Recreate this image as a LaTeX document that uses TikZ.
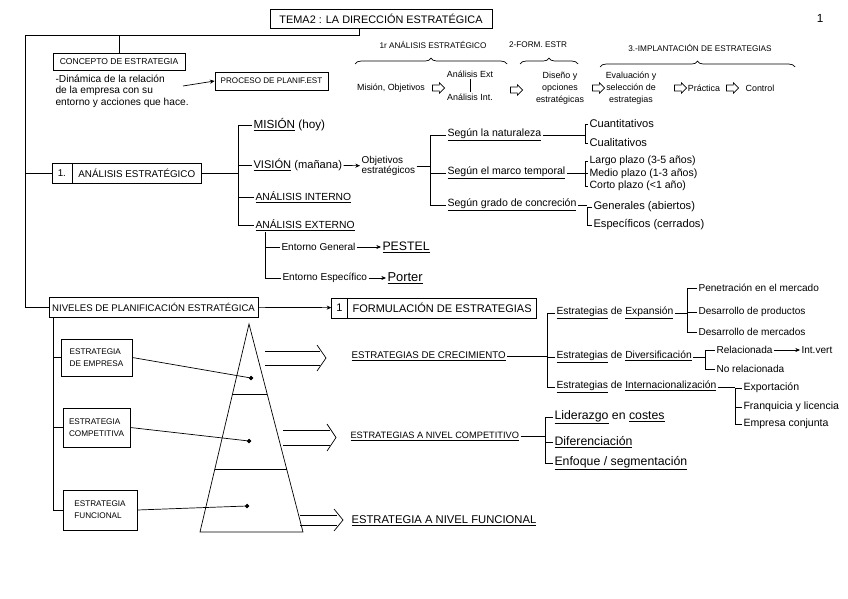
\documentclass[tikz,border=0pt]{standalone}
\usepackage{fontspec}
\setmainfont{Liberation Sans}
\usetikzlibrary{positioning,calc,shapes.arrows,shapes.multipart,decorations.pathreplacing,arrows.meta}

\begin{document}
\begin{tikzpicture}[x=0.03cm, y=-0.03cm, line width=0.6pt, >={Stealth[length=4pt,width=3.5pt]},
  box/.style={draw, inner sep=2pt, font=\fontsize{7.5}{8.5}\selectfont},
  caps/.style={anchor=west, inner sep=1pt, font=\fontsize{8.8}{9.5}\selectfont},
  txt/.style={anchor=west, inner sep=1pt, font=\fontsize{8.6}{10}\selectfont},
  small/.style={inner sep=1pt, align=center, font=\fontsize{7.6}{10.2}\selectfont},
  harrow/.style={draw, single arrow, minimum height=0.36cm, inner xsep=1.5pt, inner ysep=2.3pt, single arrow head extend=1.8pt},
  dot/.style={draw, fill, circle, inner sep=0pt, minimum size=3pt},
  brace/.style={decorate, decoration={brace, amplitude=5pt}},
  pics/flecha/.style 2 args={code={
    \draw (0,{-#2/2}) -- (#1,{-#2/2}) (0,{#2/2}) -- (#1,{#2/2});
    \draw ({#1-3},{-#2/2-6}) -- ({#1+6},0) -- ({#1-3},{#2/2+6});
  }}]
\useasboundingbox (0,0) rectangle (848,599);

% titulo
\node[box, minimum width=6.66cm, minimum height=0.58cm, font=\fontsize{9.3}{10}\selectfont] (tema) at (381,19) {TEMA2 : LA DIRECCIÓN ESTRATÉGICA};
\node[font=\fontsize{10}{12}\selectfont] (pag) at (820,18) {1};
\coordinate (raiz) at (25,35);

% concepto
\node[box, minimum width=3.96cm, minimum height=0.51cm, font=\fontsize{7.3}{8}\selectfont] (concepto) at (119,61.5) {CONCEPTO DE ESTRATEGIA};
\node[anchor=north west, inner sep=1pt, align=left, font=\fontsize{8.7}{10.2}\selectfont] (dinamica) at (54,73) {-Dinámica de la relación\\de la empresa con su\\entorno y acciones que hace.};
\coordinate (dinfin) at (183,86);
\node[box, minimum width=3.39cm, minimum height=0.54cm, font=\fontsize{6.9}{8}\selectfont] (proceso) at (271.5,81) {PROCESO DE PLANIF.EST};
\draw (concepto.north) -- (concepto.north |- raiz);
\draw[->] (dinfin) -- (proceso.west);

% fases del proceso
\node[small, font=\fontsize{7}{7.5}\selectfont] (fase1) at (433,45) {1r ANÁLISIS ESTRATÉGICO};
\node[small, font=\fontsize{7}{7.5}\selectfont] (fase2) at (538,45) {2-FORM. ESTR};
\node[small, font=\fontsize{7}{7.5}\selectfont] (fase3) at (700,48) {3.-IMPLANTACIÓN DE ESTRATEGIAS};
\draw[brace] (355,64) -- (507,64);
\draw[brace] (520,64) -- (578,64);
\draw[brace] (600,67) -- (795,67);

\node[small] (misobj) at (391,88) {Misión, Objetivos};
\node[small] (anext) at (470,74) {Análisis Ext};
\node[small] (anint) at (470,97) {Análisis Int.};
\node[small] (diseno) at (560,88) {Diseño y\\opciones\\estratégicas};
\node[small] (evalua) at (631,88) {Evaluación y\\selección de\\estrategias};
\node[small] (practica) at (704,88) {Práctica};
\node[small] (control) at (760,88) {Control};
\draw (anext) -- (anint);
\node[harrow] (f1) at (437,88) {};
\node[harrow] (f2) at (515,90) {};
\node[harrow] (f3) at (597,88) {};
\node[harrow] (f4) at (679,88) {};
\node[harrow] (f5) at (731,88) {};

% 1. analisis estrategico
\node[box, rectangle split, rectangle split horizontal, rectangle split parts=2, minimum height=0.6cm, inner xsep=5pt, font=\fontsize{8.4}{9}\selectfont] (analisis) at (126.5,173) {1.\nodepart{two}ANÁLISIS ESTRATÉGICO};
\draw (analisis.west) -- (analisis.west -| raiz);

\coordinate (b1) at (238,0);
\node[caps, font=\fontsize{10}{11}\selectfont] (mision) at (252,125) {\underline{MISIÓN} (hoy)};
\node[caps, font=\fontsize{9.5}{11}\selectfont] (vision) at (252,165) {\underline{VISIÓN} (mañana)};
\node[caps] (interno) at (254,197) {\underline{ANÁLISIS INTERNO}};
\node[caps] (externo) at (254,225) {\underline{ANÁLISIS EXTERNO}};
\draw (analisis.east) -- (analisis.east -| b1);
\draw (mision.west) -- (mision.west -| b1) -- (externo.west -| b1) -- (externo.west);
\foreach \n in {vision, interno} \draw (\n.west) -- (\n.west -| b1);

\node[anchor=west, inner sep=1pt, align=left, font=\fontsize{8.5}{9}\selectfont] (objetivos) at (360,166) {Objetivos\\estratégicos};
\draw[->] (vision) -- (objetivos);

\coordinate (b2) at (265,0);
\node[txt] (general) at (280,247) {Entorno General};
\node[caps, font=\fontsize{10.5}{11}\selectfont] (pestel) at (381,247) {\underline{PESTEL}};
\node[txt] (especifico) at (281,278) {Entorno Específico};
\node[txt, font=\fontsize{11}{12}\selectfont] (porter) at (386,278) {\underline{Porter}};
\draw (b2 |- externo.south) |- (especifico.west);
\draw (general.west) -- (general.west -| b2);
\draw[->] (general) -- (pestel);
\draw[->] (especifico) -- (porter);

\coordinate (b3) at (430,0);
\node[txt, font=\fontsize{9}{10}\selectfont] (natur) at (446,135) {\underline{Según la naturaleza}};
\node[txt, font=\fontsize{9}{10}\selectfont] (marco) at (446,173) {\underline{Según el marco temporal}};
\node[txt, font=\fontsize{9}{10}\selectfont] (grado) at (446,205) {\underline{Según grado de concreción}};
\draw (objetivos.east) -- (objetivos.east -| b3);
\draw (natur.west) -- (natur.west -| b3) -- (grado.west -| b3) -- (grado.west);
\draw (marco.west) -- (marco.west -| b3);

\coordinate (b4) at (585,0);
\node[txt, font=\fontsize{9.5}{11}\selectfont] (cuanti) at (588,124) {Cuantitativos};
\node[txt, font=\fontsize{9.5}{11}\selectfont] (cuali) at (588,143) {Cualitativos};
\draw (natur.east) -- (natur.east -| b4);
\draw (cuanti.west) -- (cuanti.west -| b4) -- (cuali.west -| b4) -- (cuali.west);

\coordinate (b5) at (585,0);
\node[txt, font=\fontsize{9}{10}\selectfont] (largo) at (588,161) {Largo plazo (3-5 años)};
\node[txt, font=\fontsize{9}{10}\selectfont] (medio) at (588,173.5) {Medio plazo (1-3 años)};
\node[txt, font=\fontsize{9}{10}\selectfont] (corto) at (588,186) {Corto plazo (<1 año)};
\draw (marco.east) -- (marco.east -| b5);
\draw (largo.west) -- (largo.west -| b5) -- (corto.west -| b5) -- (corto.west);
\draw (medio.west) -- (medio.west -| b5);

\coordinate (b6) at (587,0);
\node[txt, font=\fontsize{9.5}{10}\selectfont] (generales) at (592,207) {Generales (abiertos)};
\node[txt, font=\fontsize{9.5}{10}\selectfont] (especificos) at (592,225) {Específicos (cerrados)};
\draw (grado.east) -- (grado.east -| b6);
\draw (generales.west) -- (generales.west -| b6) -- (especificos.west -| b6) -- (especificos.west);

% niveles de planificacion
\node[box, minimum width=6.27cm, minimum height=0.6cm, font=\fontsize{8.2}{9}\selectfont] (niveles) at (153.5,307) {NIVELES DE PLANIFICACIÓN ESTRATÉGICA};
\node[box, rectangle split, rectangle split horizontal, rectangle split parts=2, minimum height=0.6cm, inner xsep=4pt, font=\fontsize{9.4}{10}\selectfont] (formul) at (434,308) {1\nodepart{two}FORMULACIÓN DE ESTRATEGIAS\hspace{2pt}};
\draw (tema.south west) ++(90,0) |- (raiz) |- (niveles.west);
\draw[->] (niveles) -- (formul);

\node[box, align=left, minimum width=2.13cm, minimum height=1.11cm, font=\fontsize{7}{10}\selectfont] (empresa) at (96.5,357.5) {ESTRATEGIA\\DE EMPRESA};
\node[box, align=left, minimum width=2.01cm, minimum height=1.17cm, font=\fontsize{7}{10}\selectfont] (compet) at (96.5,427.5) {ESTRATEGIA\\COMPETITIVA};
\node[box, align=left, minimum width=2.22cm, minimum height=1.2cm, font=\fontsize{7}{10}\selectfont] (funcion) at (100,510) {ESTRATEGIA\\FUNCIONAL};
\coordinate (b7) at (53,0);
\draw (niveles.south -| b7) |- (funcion.west);
\foreach \n in {empresa, compet} \draw (\n.west) -- (\n.west -| b7);

% piramide
\coordinate (cima) at (249,324);
\coordinate (bizq) at (200,532);
\coordinate (bder) at (303,532);
\draw (cima) -- (bizq) -- (bder) -- cycle;
\draw ($(cima)!0.337!(bizq)$) -- ($(cima)!0.337!(bder)$);
\draw ($(cima)!0.697!(bizq)$) -- ($(cima)!0.697!(bder)$);
\node[dot] (d1) at (251,378) {};
\node[dot] (d2) at (249,441) {};
\node[dot] (d3) at (247,506) {};
\draw (empresa.east) -- (d1);
\draw (compet.east) -- (d2);
\draw (funcion.east) -- (d3);

\node[caps, font=\fontsize{8.3}{9}\selectfont] (crec) at (350,356) {\underline{ESTRATEGIAS DE CRECIMIENTO}};
\node[caps, font=\fontsize{7.9}{9}\selectfont] (nivcomp) at (349,436) {\underline{ESTRATEGIAS A NIVEL COMPETITIVO}};
\node[caps, font=\fontsize{9.6}{10}\selectfont] (nivfunc) at (350,521) {\underline{ESTRATEGIA A NIVEL FUNCIONAL}};
\coordinate (p1) at (265,358);
\coordinate (p2) at (283,437.5);
\coordinate (p3) at (300,520);
\pic at (p1) {flecha={55}{14}};
\pic at (p2) {flecha={47}{15}};
\pic at (p3) {flecha={37}{10}};

% crecimiento
\coordinate (b8) at (547,0);
\node[txt, font=\fontsize{8.8}{10}\selectfont] (expan) at (555,313) {\underline{Estrategias} de \underline{Expansión}};
\node[txt, font=\fontsize{8.8}{10}\selectfont] (diver) at (555,357) {\underline{Estrategias} de \underline{Diversificación}};
\node[txt, font=\fontsize{8.8}{10}\selectfont] (inter) at (555,387) {\underline{Estrategias} de \underline{Internacionalización}};
\draw (crec.east) -- (crec.east -| b8);
\draw (expan.west) -- (expan.west -| b8) -- (inter.west -| b8) -- (inter.west);
\draw (diver.west) -- (diver.west -| b8);

\coordinate (b9) at (687,0);
\node[txt] (pene) at (697,288) {Penetración en el mercado};
\node[txt] (dprod) at (697,312) {Desarrollo de productos};
\node[txt] (dmerc) at (697,332) {Desarrollo de mercados};
\draw (expan.east) -- (expan.east -| b9);
\draw (pene.west) -- (pene.west -| b9) -- (dmerc.west -| b9) -- (dmerc.west);
\draw (dprod.west) -- (dprod.west -| b9);

\coordinate (b10) at (705,0);
\node[txt] (rela) at (715,350) {Relacionada};
\node[txt] (intvert) at (800,350) {Int.vert};
\node[txt] (norela) at (715,369) {No relacionada};
\draw (diver.east) -- (diver.east -| b10);
\draw (rela.west) -- (rela.west -| b10) -- (norela.west -| b10) -- (norela.west);
\draw[->] (rela) -- (intvert);

\coordinate (b11) at (735,0);
\node[txt, font=\fontsize{9}{10}\selectfont] (expo) at (742,388) {Exportación};
\node[txt, font=\fontsize{9}{10}\selectfont] (fran) at (742,407) {Franquicia y licencia};
\node[txt, font=\fontsize{9}{10}\selectfont] (empc) at (742,424) {Empresa conjunta};
\draw (inter.east) -- (inter.east -| b11);
\draw (expo.west) -- (expo.west -| b11) -- (empc.west -| b11) -- (empc.west);
\draw (fran.west) -- (fran.west -| b11);

% nivel competitivo
\coordinate (b12) at (545,0);
\node[txt, font=\fontsize{10.5}{11}\selectfont] (lider) at (553,417) {\underline{Liderazgo} en \underline{costes}};
\node[txt, font=\fontsize{10.5}{11}\selectfont] (difer) at (553,442) {\underline{Diferenciación}};
\node[txt, font=\fontsize{10.5}{11}\selectfont] (enfoq) at (553,463) {\underline{Enfoque / segmentación}};
\draw (nivcomp.east) -- (nivcomp.east -| b12);
\draw (lider.west) -- (lider.west -| b12) -- (enfoq.west -| b12) -- (enfoq.west);
\draw (difer.west) -- (difer.west -| b12);
\end{tikzpicture}
\end{document}
